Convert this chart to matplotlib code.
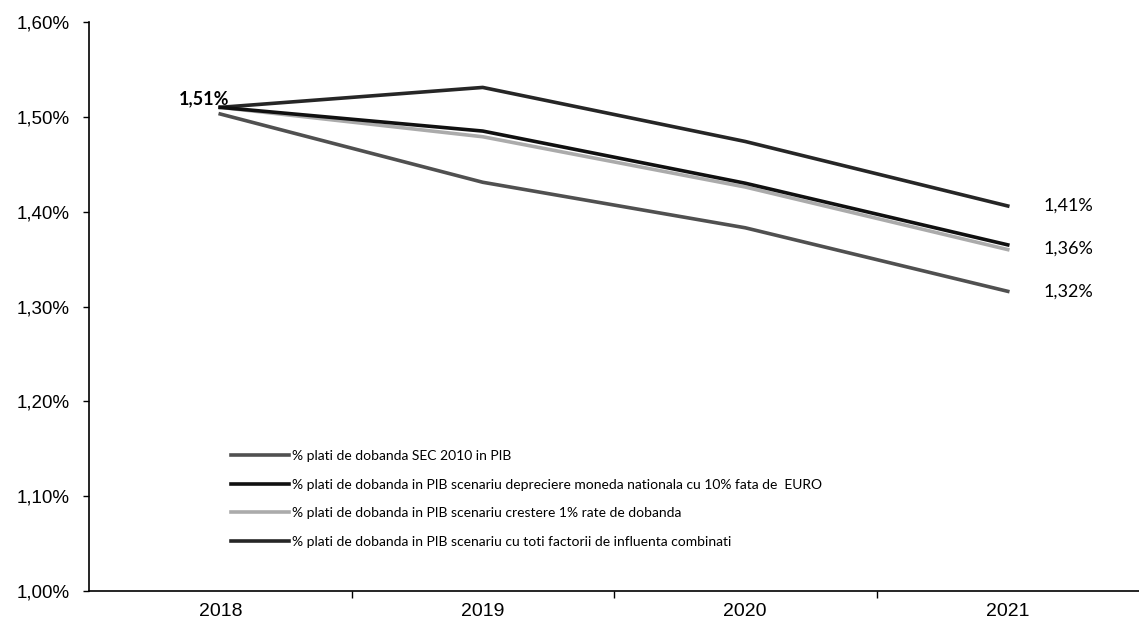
import matplotlib
matplotlib.use("Agg")
import matplotlib.pyplot as plt
from matplotlib import font_manager
from matplotlib.ticker import FixedLocator, FuncFormatter

# date
ani = ['2018', '2019', '2020', '2021']
sec_2010 = [1.503, 1.431, 1.383, 1.316]
depreciere = [1.510, 1.485, 1.430, 1.365]
crestere_dobanda = [1.510, 1.479, 1.426, 1.360]
combinati = [1.510, 1.531, 1.474, 1.406]

etichete = [
    '% plati de dobanda SEC 2010 in PIB',
    '% plati de dobanda in PIB scenariu depreciere moneda nationala cu 10% fata de  EURO',
    '% plati de dobanda in PIB scenariu crestere 1% rate de dobanda',
    '% plati de dobanda in PIB scenariu cu toti factorii de influenta combinati',
]
eticheta_start = '1,51%'
etichete_final = ['1,41%', '1,36%', '1,32%']
valori_final = [combinati[-1], depreciere[-1], sec_2010[-1]]


def font_exista(nume):
    try:
        font_manager.findfont(nume, fallback_to_default=False)
        return True
    except Exception:
        return False


font_ani = 'Liberation Sans Narrow' if font_exista('Liberation Sans Narrow') else 'Liberation Sans'

fig = plt.figure(figsize=(11.39, 6.25), dpi=100)
ax = fig.add_axes([89 / 1139, 34 / 625, 1050 / 1139, 569 / 625])

x = list(range(len(ani)))
ax.plot(x, sec_2010, color='#505050', lw=2.6, label=etichete[0], zorder=3)
ax.plot(x, depreciere, color='#101010', lw=2.6, label=etichete[1], zorder=4)
ax.plot(x, crestere_dobanda, color='#ababab', lw=2.6, label=etichete[2], zorder=3)
ax.plot(x, combinati, color='#262626', lw=2.6, label=etichete[3], zorder=3)

ax.set_xlim(-0.5, 3.5)
ax.set_ylim(1.00, 1.60)

# axa y
ax.set_yticks([1.0, 1.1, 1.2, 1.3, 1.4, 1.5, 1.6])
ax.yaxis.set_major_formatter(FuncFormatter(lambda v, p: f'{v:.2f}%'.replace('.', ',')))
ax.tick_params(axis='y', length=4, width=1, pad=10, labelsize=13.5)
for t in ax.get_yticklabels():
    t.set_fontfamily('Liberation Sans')

# axa x
ax.set_xticks(x)
ax.set_xticklabels(ani, fontfamily=font_ani, fontsize=14)
ax.tick_params(axis='x', which='major', length=0, pad=9)
ax.xaxis.set_minor_locator(FixedLocator([0.5, 1.5, 2.5]))
ax.tick_params(axis='x', which='minor', length=5, width=1, direction='out')

for s in ['top', 'right']:
    ax.spines[s].set_visible(False)
for s in ['left', 'bottom']:
    ax.spines[s].set_linewidth(1.2)
    ax.spines[s].set_color('black')

# etichete de date
ax.annotate(eticheta_start, (0, combinati[0]), xytext=(-12, 6), textcoords='offset points',
            ha='center', va='center', fontsize=13, fontweight='bold', fontfamily='Lato')
offs = [0, -3, 0]
for txt, v, o in zip(etichete_final, valori_final, offs):
    ax.annotate(txt, (3, v), xytext=(26, o), textcoords='offset points',
                ha='left', va='center', fontsize=13, fontfamily='Lato')

leg = ax.legend(loc='upper left', bbox_to_anchor=(231 / 1139, 1 - 450 / 625),
                bbox_transform=fig.transFigure, frameon=False, borderpad=0,
                borderaxespad=0, handlelength=4.2, handletextpad=0.2,
                labelspacing=1.2, prop={'family': 'Lato', 'size': 10})

fig.savefig('out.png', dpi=100)
